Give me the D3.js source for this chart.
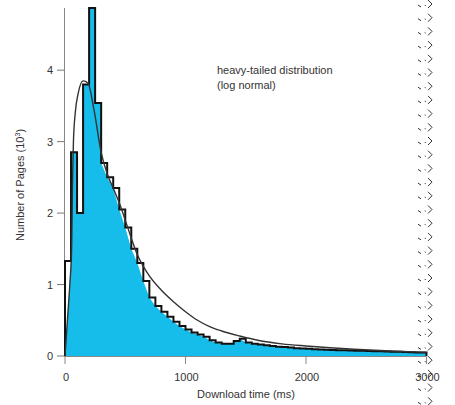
<!DOCTYPE html>
<html><head><meta charset="utf-8">
<script src="https://cdn.jsdelivr.net/npm/d3@7/dist/d3.min.js"></script>
<style>
html,body{margin:0;padding:0;background:#fff;}
svg{display:block;}
text{font-family:"Liberation Sans",Arial,Helvetica,sans-serif;fill:#333;}
</style></head>
<body>
<svg id="chart" width="455" height="405"></svg>
<script>
// ---- data ----
const binWidth = 50; // ms
const histValues = [1.33,2.85,2.0,3.8,4.87,3.54,2.7,2.5,2.35,2.05,
  1.8,1.5,1.3,1.05,0.82,0.7,0.62,0.55,0.48,0.42,
  0.37,0.33,0.3,0.27,0.22,0.19,0.17,0.17,0.21,0.24,
  0.19,0.17,0.16,0.15,0.14,0.13,0.125,0.12,0.11,0.105,
  0.1,0.095,0.09,0.088,0.085,0.082,0.08,0.077,0.075,0.072,
  0.07,0.068,0.065,0.062,0.06,0.058,0.055,0.052,0.05,0.048]; // thousands of pages
const curveX = [0,20,40,55,62,70,85,110,150,190,240,300,350,400,460,520,600,700,800,900,1000,1100,1200,1300,1450,1600,1800,2000,2200,2400,2700,3000];
const curveY = [0,0.5,1.0,1.5,2.4,3.0,3.4,3.68,3.85,3.82,3.45,2.85,2.55,2.35,2.1,1.8,1.42,1.12,0.92,0.76,0.62,0.5,0.41,0.35,0.28,0.22,0.17,0.14,0.115,0.095,0.07,0.05];
const xTicks = [0,1000,2000,3000];
const yTicks = [0,1,2,3,4];
const xTitle = "Download time (ms)";
const yTitle = "Number of Pages (10";
const noteLines = ["heavy-tailed distribution","(log normal)"];

// ---- chart ----
const svg = d3.select("#chart");
const x = d3.scaleLinear().domain([0,3000]).range([65,426.5]);
const y = d3.scaleLinear().domain([0,4.87]).range([356,8]);

const bins = histValues.map((v,i)=>({x0:i*binWidth,x1:(i+1)*binWidth,v}));

// step outline points
const stepPts = [[0,0]];
bins.forEach(b=>{stepPts.push([b.x0,b.v]);stepPts.push([b.x1,b.v]);});
stepPts.push([bins[bins.length-1].x1,0]);
const line = d3.line().x(d=>x(d[0])).y(d=>y(d[1]));

// clip path = histogram area
svg.append("clipPath").attr("id","histClip")
  .append("path").attr("d", line(stepPts)+"Z");

// fill: diagonal start, steps through the peak, linear across the descending staircase
const fillPts = [[0,0],[bins[0].x1,bins[0].v]];
for(let i=1;i<bins.length;i++){
  const b=bins[i];
  if(i<=5){fillPts.push([b.x0,b.v]);fillPts.push([b.x1,b.v]);}
  else fillPts.push([b.x0,b.v]);
}
fillPts.push([bins[bins.length-1].x1,bins[bins.length-1].v]);
fillPts.push([bins[bins.length-1].x1,0]);
svg.append("path").attr("d", line(fillPts)+"Z")
  .attr("fill","#17bdea").attr("clip-path","url(#histClip)");

// axes
const gy = svg.append("g");
gy.append("line").attr("x1",64.5).attr("x2",64.5).attr("y1",8).attr("y2",357).attr("stroke","#888").attr("stroke-width",1);
yTicks.forEach(t=>{
  gy.append("line").attr("x1",57).attr("x2",64.5).attr("y1",y(t)).attr("y2",y(t)).attr("stroke","#777");
  gy.append("text").attr("x",53).attr("y",y(t)+4).attr("text-anchor","end").attr("font-size",11).text(t);
});
const gx = svg.append("g");
gx.append("line").attr("x1",64.5).attr("x2",x(3000)).attr("y1",356.5).attr("y2",356.5).attr("stroke","#888");
xTicks.forEach(t=>{
  gx.append("line").attr("x1",x(t)).attr("x2",x(t)).attr("y1",356.5).attr("y2",364).attr("stroke","#888");
  gx.append("text").attr("x",x(t)+1).attr("y",381).attr("text-anchor","middle").attr("font-size",11).text(t);
});
svg.append("text").attr("x",246).attr("y",398).attr("text-anchor","middle").attr("font-size",11).text(xTitle);
const yt = svg.append("text").attr("transform","translate(24,185) rotate(-90)").attr("text-anchor","middle").attr("font-size",11);
yt.append("tspan").text(yTitle);
yt.append("tspan").attr("dy",-4).attr("font-size",7).text("3");
yt.append("tspan").attr("dy",4).text(")");

// histogram outline
svg.append("path").attr("d", line(stepPts)).attr("fill","none")
  .attr("stroke","#111").attr("stroke-width",2).attr("stroke-linejoin","miter");

// log-normal fit curve
const cpts = curveX.map((d,i)=>[d,curveY[i]]);
svg.append("path").attr("d", d3.line().x(d=>x(d[0])).y(d=>y(d[1])).curve(d3.curveMonotoneX)(cpts))
  .attr("fill","none").attr("stroke","#333").attr("stroke-width",1.4);

// note
noteLines.forEach((s,i)=>{
  svg.append("text").attr("x",217).attr("y",74+i*15).attr("font-size",11).attr("fill","#222").text(s);
});

// torn right edge decoration
const torn = svg.append("g").attr("stroke","#333").attr("fill","none").attr("stroke-width",1);
for(let yy=-4; yy<410; yy+=13.7){
  torn.append("path").attr("d",`M418,${yy+9}L421,${yy+11}`);
  torn.append("path").attr("d",`M425,${yy+9}L425.5,${yy+10}`);
  torn.append("path").attr("d",`M428,${yy+4}L432,${yy+8}L428,${yy+12}`);
}
</script>
</body></html>
